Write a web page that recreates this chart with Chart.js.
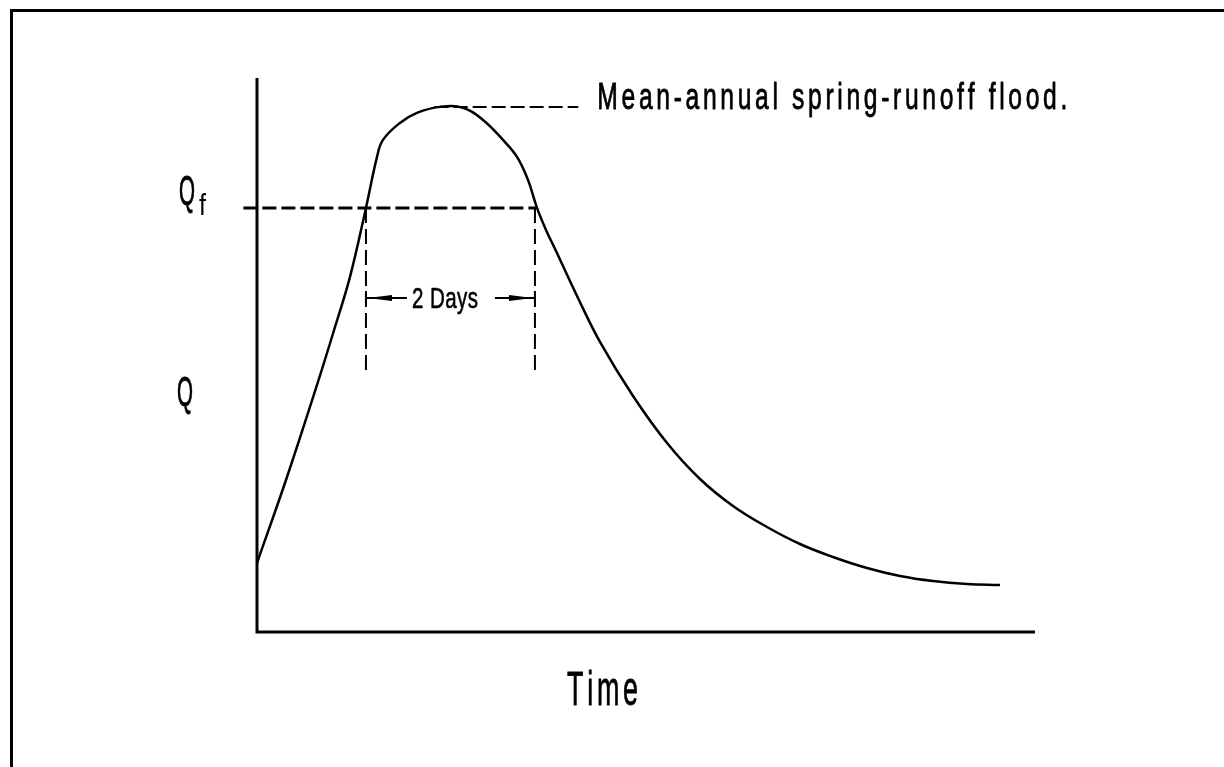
<!DOCTYPE html>
<html>
<head>
<meta charset="utf-8">
<script src="https://cdn.jsdelivr.net/npm/chart.js@4"></script>
<style>
  html, body { margin: 0; padding: 0; background: #fff; overflow: hidden; }
  canvas { display: block; }
</style>
</head>
<body>
<canvas id="c" width="1224" height="767"></canvas>
<script>
// ---- data (time in days, discharge in % of peak) ----
const timeDays = [0, 0.353, 0.706, 0.918, 1.094, 1.282, 1.412, 1.482, 1.682, 1.882, 2.153, 2.424, 2.659, 2.894, 3.059, 3.188, 3.294, 3.400, 3.529, 3.765, 4.035, 4.424, 4.824, 5.212, 5.600, 6.000, 6.388, 6.776, 7.176, 7.565, 7.953, 8.353, 8.741];
const discharge = [13.14, 29.52, 47.05, 58.10, 67.62, 80.76, 90.48, 93.71, 96.95, 98.86, 100.0, 99.81, 97.52, 93.71, 90.48, 86.10, 80.76, 76.57, 72.19, 64.0, 55.24, 44.95, 36.0, 29.14, 24.0, 20.0, 16.76, 14.29, 12.19, 10.67, 9.71, 9.14, 8.95];

const qfLineX = [-0.16, 3.282];
const qfLineY = [80.76, 80.76];
const riseMarkX = [1.282, 1.282];
const fallMarkX = [3.270, 3.270];
const markY = [80.76, 49.9];
const leaderX = [2.09, 3.78];
const leaderY = [100, 100];
const durationArrowY = [63.6];
const axisMax = [9.153, 105.5];

const labels = {
  peak: "Mean-annual spring-runoff flood.",
  duration: "2 Days",
  qf: "Q",
  qfSub: "f",
  yAxis: "Q",
  xAxis: "Time"
};

function pts(xs, ys) { return xs.map((x, i) => ({ x: x, y: ys[i] })); }

const FONT = '"Liberation Sans", Arial, sans-serif';
// condensed glyphs spread over a given overall width (CAD-style lettering)
function drawText(ctx, str, x, baseline, capH, width, sx, weight) {
  const size = capH / 0.716;
  ctx.save();
  ctx.font = size + 'px ' + FONT;
  ctx.textBaseline = 'alphabetic';
  ctx.textAlign = 'left';
  ctx.fillStyle = '#000';
  ctx.strokeStyle = '#000';
  ctx.lineJoin = 'round';
  const chars = Array.from(str);
  if (chars.length === 1) sx = width / ctx.measureText(str).width;
  const adv = chars.map(ch => ctx.measureText(ch).width * sx);
  const total = adv.reduce((a, b) => a + b, 0);
  const extra = chars.length > 1 ? (width - total) / (chars.length - 1) : 0;
  let cx = x;
  chars.forEach((ch, i) => {
    ctx.save();
    ctx.translate(cx, baseline);
    ctx.scale(sx, 1);
    ctx.fillText(ch, 0, 0);
    if (weight) { ctx.lineWidth = weight; ctx.strokeText(ch, 0, 0); }
    ctx.restore();
    cx += adv[i] + extra;
  });
  ctx.restore();
}

const decor = {
  id: 'decor',
  beforeDraw(chart) {
    const ctx = chart.ctx;
    ctx.save();
    ctx.fillStyle = '#fff';
    ctx.fillRect(0, 0, chart.width, chart.height);
    ctx.fillStyle = '#000';
    ctx.fillRect(10, 9, chart.width - 10, 3);
    ctx.fillRect(10, 9, 3, chart.height - 9);
    ctx.restore();
  },
  afterDatasetsDraw(chart) {
    const ctx = chart.ctx;
    const xs = chart.scales.x, ys = chart.scales.y;
    const x0 = xs.getPixelForValue(0), x1 = xs.getPixelForValue(axisMax[0]);
    const y0 = ys.getPixelForValue(0), y1 = ys.getPixelForValue(axisMax[1]);
    ctx.save();
    ctx.strokeStyle = '#000';
    ctx.lineWidth = 3;
    ctx.beginPath();
    ctx.moveTo(x0, y1);
    ctx.lineTo(x0, y0);
    ctx.lineTo(x1, y0);
    ctx.stroke();

    // duration arrows
    const ay = ys.getPixelForValue(durationArrowY[0]);
    const ax1 = xs.getPixelForValue(riseMarkX[0]);
    const ax2 = xs.getPixelForValue(fallMarkX[0]);
    ctx.lineWidth = 2;
    ctx.beginPath();
    ctx.moveTo(ax1, ay); ctx.lineTo(ax1 + 41, ay);
    ctx.moveTo(ax2 - 40, ay); ctx.lineTo(ax2, ay);
    ctx.moveTo(ax1, ay - 7); ctx.lineTo(ax1, ay + 7);
    ctx.moveTo(ax2, ay - 7); ctx.lineTo(ax2, ay + 7);
    ctx.stroke();
    ctx.fillStyle = '#000';
    ctx.beginPath();
    ctx.moveTo(ax1 + 2, ay); ctx.lineTo(ax1 + 26, ay - 3); ctx.lineTo(ax1 + 26, ay + 3); ctx.closePath();
    ctx.moveTo(ax2 - 2, ay); ctx.lineTo(ax2 - 26, ay - 3); ctx.lineTo(ax2 - 26, ay + 3); ctx.closePath();
    ctx.fill();
    drawText(ctx, labels.duration, ax1 + 46, ay + 10, 21, 66, 0.7, 0.6);

    // peak label
    const lx = xs.getPixelForValue(leaderX[1]);
    const ly = ys.getPixelForValue(leaderY[1]);
    drawText(ctx, labels.peak, lx + 19, ly + 2, 26, 470, 0.68, 0.8);

    // Qf label
    const qy = ys.getPixelForValue(qfLineY[0]);
    drawText(ctx, labels.qf, x0 - 78, qy - 3, 30, 16, 0, 0.8);
    drawText(ctx, labels.qfSub, x0 - 58, qy + 7, 21, 7, 0, 0);

    // axis labels
    drawText(ctx, labels.yAxis, x0 - 80, ys.getPixelForValue(43), 30, 16, 0, 0.8);
    drawText(ctx, labels.xAxis, (x0 + x1) / 2 - 79, y0 + 73, 35, 71, 0.55, 0.8);
    ctx.restore();
  }
};

const dashed = (data, width, dash) => ({
  data: data, showLine: true, borderColor: '#000', borderWidth: width, borderDash: dash,
  pointRadius: 0, fill: false, tension: 0, clip: false
});

new Chart(document.getElementById('c'), {
  type: 'scatter',
  data: {
    datasets: [
      {
        data: pts(timeDays, discharge),
        showLine: true, borderColor: '#000', borderWidth: 2.5,
        pointRadius: 0, fill: false, tension: 0.4, clip: false
      },
      dashed(pts(qfLineX, qfLineY), 3, [14, 5]),
      dashed(pts(riseMarkX, markY), 2, [15, 6]),
      dashed(pts(fallMarkX, markY), 2, [15, 6]),
      dashed(pts(leaderX, leaderY), 2, [14, 5])
    ]
  },
  options: {
    responsive: false,
    animation: false,
    devicePixelRatio: 1,
    layout: { padding: { left: 257, top: 78, right: 189, bottom: 135 } },
    plugins: { legend: { display: false }, tooltip: { enabled: false }, title: { display: false } },
    scales: {
      x: { type: 'linear', display: false, min: 0, max: axisMax[0] },
      y: { type: 'linear', display: false, min: 0, max: axisMax[1] }
    }
  },
  plugins: [decor]
});
</script>
</body>
</html>
